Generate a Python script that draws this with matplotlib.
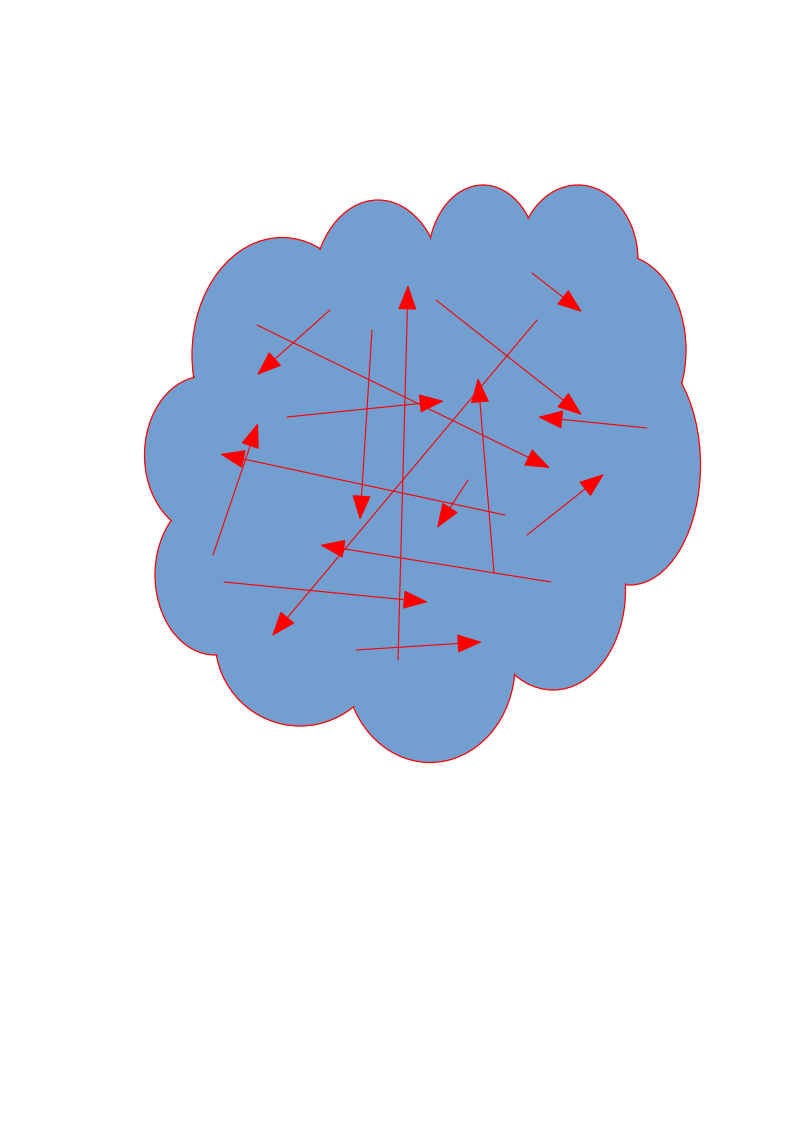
import matplotlib
matplotlib.use("Agg")
import matplotlib.pyplot as plt
from matplotlib.patches import Ellipse

# cloud lobes: centre x, centre y, width, height (page pixels)
lobe_x = [282, 378, 483, 578, 620, 630, 553, 430, 300, 215, 205, 420]
lobe_y = [355, 290, 260, 260, 350, 465, 590, 665, 640, 575, 455, 470]
lobe_w = [180, 130, 110, 120, 132, 141, 145, 170, 170, 120, 121, 380]
lobe_h = [235, 180, 150, 150, 190, 240, 200, 195, 172, 160, 158, 420]

# arrows: tail -> head
tail_x = [330, 257, 372, 398, 436, 532, 537, 287, 647, 505, 213, 468, 494, 527, 551, 224, 356]
tail_y = [310, 325, 330, 660, 300, 273, 320, 417, 428, 515, 555, 480, 573, 535, 582, 582, 650]
head_x = [257, 550, 360, 408, 582, 582, 272, 444, 538, 220, 258, 437, 478, 604, 320, 428, 482]
head_y = [375, 468, 520, 285, 415, 312, 636, 401, 417, 454, 423, 528, 378, 474, 545, 602, 642]

fig = plt.figure(figsize=(7.94, 11.23), dpi=100)
ax = fig.add_axes([0, 0, 1, 1])
ax.set_xlim(0, 794)
ax.set_ylim(1123, 0)
ax.axis("off")

fill = "#729fcf"
for x, y, w, h in zip(lobe_x, lobe_y, lobe_w, lobe_h):
    ax.add_patch(Ellipse((x, y), w, h, facecolor=fill, edgecolor="#ff0000", lw=0.9, zorder=1))
for x, y, w, h in zip(lobe_x, lobe_y, lobe_w, lobe_h):
    ax.add_patch(Ellipse((x, y), w - 2.5, h - 2.5, facecolor=fill, edgecolor="none", zorder=2))

for tx, ty, hx, hy in zip(tail_x, tail_y, head_x, head_y):
    ax.annotate("", xy=(hx, hy), xytext=(tx, ty),
                arrowprops=dict(arrowstyle="-|>,head_length=0.8,head_width=0.3",
                                mutation_scale=20, color="#ff0000", lw=0.8,
                                shrinkA=0, shrinkB=0), zorder=3)

fig.savefig("out.png", dpi=100)
